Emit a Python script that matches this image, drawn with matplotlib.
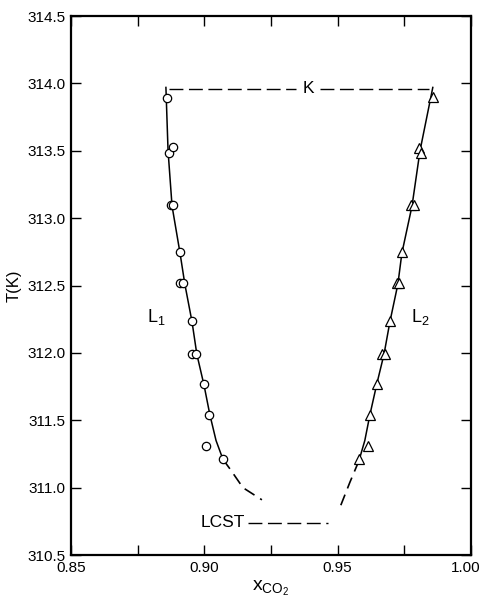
import numpy as np
import matplotlib
matplotlib.use('Agg')
import matplotlib.pyplot as plt
import matplotlib.transforms as mtransforms

plt.rcParams['font.family'] = ['Liberation Sans', 'DejaVu Sans']
plt.rcParams['mathtext.fontset'] = 'custom'
plt.rcParams['mathtext.rm'] = 'Liberation Sans'

# measured points, liquid L1 (circles) and L2 (triangles)
x_L1 = [0.8860, 0.8867, 0.8882, 0.8875, 0.8882, 0.8909, 0.8909, 0.8920, 0.8954,
        0.8954, 0.8969, 0.8999, 0.9017, 0.9006, 0.9070]
T_L1 = [313.89, 313.48, 313.53, 313.10, 313.10, 312.75, 312.52, 312.52, 312.24,
        311.99, 311.99, 311.77, 311.54, 311.31, 311.21]
x_L2 = [0.9857, 0.9805, 0.9812, 0.9775, 0.9785, 0.9741, 0.9722, 0.9730, 0.9696,
        0.9666, 0.9677, 0.9647, 0.9621, 0.9613, 0.9580]
T_L2 = [313.90, 313.52, 313.48, 313.10, 313.10, 312.75, 312.52, 312.52, 312.24,
        311.99, 311.99, 311.77, 311.54, 311.31, 311.21]

# smooth curves drawn through the data
cx_L1 = [0.8856, 0.8864, 0.8879, 0.8909, 0.8927, 0.8954, 0.8972, 0.8999, 0.9021, 0.9044, 0.9070]
cT_L1 = [313.97, 313.50, 313.09, 312.74, 312.51, 312.23, 311.99, 311.76, 311.54, 311.35, 311.21]
dx_L1 = [0.9070, 0.9096, 0.9145, 0.9216]
dT_L1 = [311.21, 311.14, 311.00, 310.91]
cx_L2 = [0.9857, 0.9809, 0.9779, 0.9741, 0.9726, 0.9696, 0.9674, 0.9647, 0.9621, 0.9602, 0.9580]
cT_L2 = [313.97, 313.50, 313.09, 312.74, 312.51, 312.23, 311.99, 311.77, 311.54, 311.35, 311.20]
dx_L2 = [0.9580, 0.9546, 0.9512]
dT_L2 = [311.20, 311.04, 310.87]

# critical end point line K (broken around its label) and LCST line
K_left = [0.8866, 0.9345]
K_right = [0.9435, 0.9842]
K_T = 313.96
LCST_x = [0.9164, 0.9464]
LCST_T = 310.74

fig = plt.figure(figsize=(4.83, 6.04), dpi=100)
ax = fig.add_axes([0.147, 0.081, 0.828, 0.8925])

ax.plot(cx_L1, cT_L1, 'k-', lw=1.1)
ax.plot(cx_L2, cT_L2, 'k-', lw=1.1)
ax.plot(dx_L1, dT_L1, 'k-', lw=1.2, dashes=(7, 4))
ax.plot(dx_L2, dT_L2, 'k-', lw=1.2, dashes=(7, 4))
ax.plot(x_L1, T_L1, 'o', mfc='white', mec='black', ms=6, mew=0.9)
ax.plot(x_L2, T_L2, '^', mfc='white', mec='black', ms=7, mew=0.9)

ax.plot(K_left, [K_T, K_T], 'k-', lw=1.0, dashes=(10, 4))
ax.plot(K_right, [K_T, K_T], 'k-', lw=1.0, dashes=(10, 4))
ax.text(0.939, K_T, 'K', ha='center', va='center', fontsize=12.5)
ax.plot(LCST_x, [LCST_T, LCST_T], 'k-', lw=1.0, dashes=(10, 4))
ax.text(0.9152, LCST_T, 'LCST', ha='right', va='center', fontsize=12.5)

ax.text(0.882, 312.27, r'L$_1$', ha='center', va='center', fontsize=13)
ax.text(0.981, 312.27, r'L$_2$', ha='center', va='center', fontsize=13)

ax.set_xlim(0.85, 1.00)
ax.set_ylim(310.5, 314.5)
ax.set_xticks(np.arange(0.85, 1.001, 0.025))
ax.set_xticklabels(['0.85', '', '0.90', '', '0.95', '', '1.00'])
ax.set_yticks(np.arange(310.5, 314.51, 0.5))
ax.set_yticklabels(['%.1f' % v for v in np.arange(310.5, 314.51, 0.5)])
ax.tick_params(direction='in', length=7, width=1.0, top=True, right=True,
               labelsize=11, pad=4)
for s in ax.spines.values():
    s.set_linewidth(1.6)

# nudge the last x label so it stays inside the figure
last = ax.get_xticklabels()[-1]
last.set_transform(last.get_transform() +
                   mtransforms.ScaledTranslation(-5 / 100, 0, fig.dpi_scale_trans))

ax.set_ylabel('T(K)', fontsize=12, labelpad=4)
ax.set_xlabel(r'$\mathregular{x_{CO_2}}$', fontsize=14, labelpad=3)

fig.savefig('out.png', dpi=100)
